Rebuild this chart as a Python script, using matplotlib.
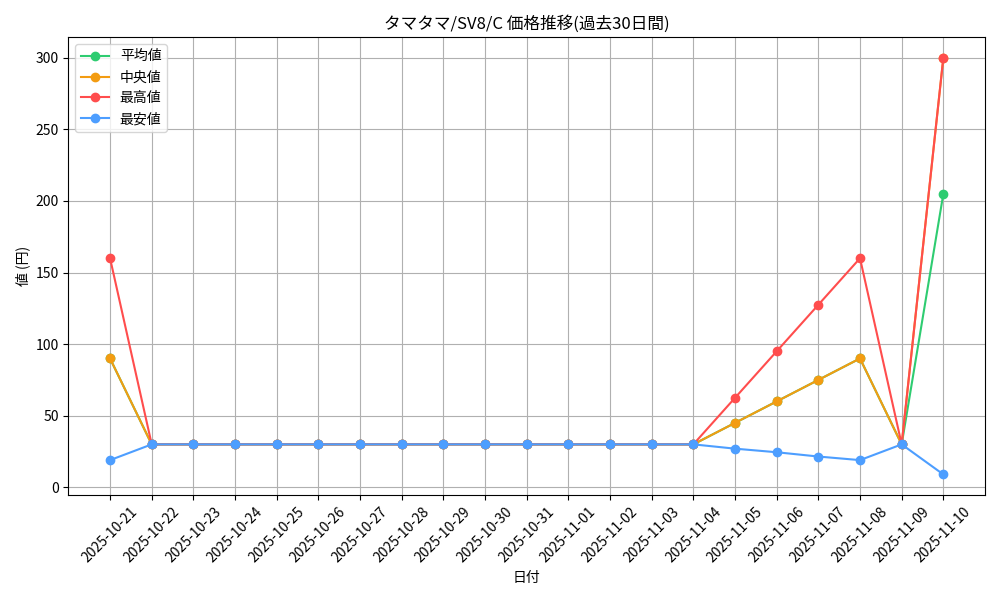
import matplotlib
matplotlib.use("Agg")
import matplotlib.pyplot as plt
import pandas as pd

plt.rcParams['font.family'] = ['Noto Sans CJK JP', 'DejaVu Sans']

dates = [d.strftime('%Y-%m-%d') for d in pd.date_range('2025-10-21', '2025-11-10')]
mean_v = [90] + [30]*14 + [45, 60, 75, 90, 30, 205]
median_v = [90] + [30]*14 + [45, 60, 75, 90, 30, 300]
max_v = [160] + [30]*14 + [62.5, 95, 127.5, 160, 30, 300]
min_v = [19] + [30]*14 + [27, 24.5, 21.5, 19, 30, 9]

fig, ax = plt.subplots(figsize=(10, 6), dpi=100)
x = range(len(dates))
ax.plot(x, mean_v, marker='o', color='#2ecc71', label='平均値')
ax.plot(x, median_v, marker='o', color='#f39c12', label='中央値')
ax.plot(x, max_v, marker='o', color='#ff4d4d', label='最高値')
ax.plot(x, min_v, marker='o', color='#4d9eff', label='最安値')
ax.set_xticks(list(x))
ax.set_xticklabels(dates, rotation=45)
ax.set_title('タマタマ/SV8/C 価格推移(過去30日間)')
ax.set_xlabel('日付')
ax.set_ylabel('値 (円)')
ax.grid(True)
ax.legend(loc='upper left')
fig.tight_layout()
fig.savefig('out.png')
